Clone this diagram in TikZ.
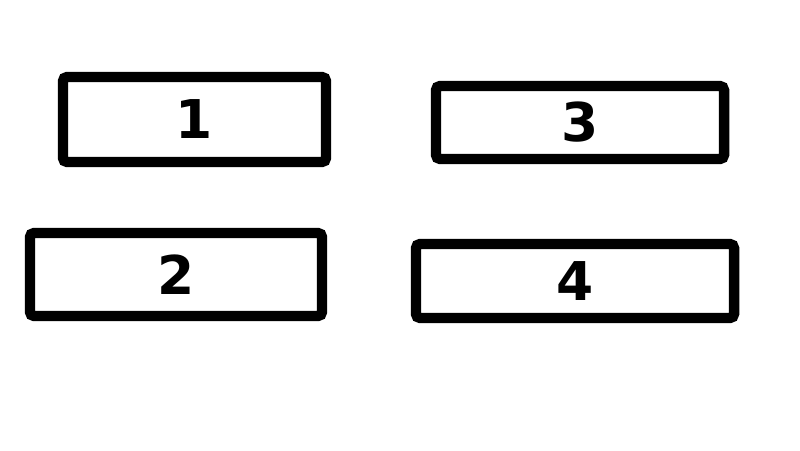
\documentclass[tikz,border=0pt]{standalone}
\usepackage{fontspec}
\newfontfamily\digitfont{DejaVu Sans}
\usepackage{tikz}
\usetikzlibrary{positioning}

\begin{document}
\begin{tikzpicture}[x=0.025cm,y=-0.025cm,semithick]
	\tikzset{box/.style={draw=black, line width=7.4pt, rounded corners=3pt, rectangle, inner sep=0pt,
		font=\digitfont\bfseries\fontsize{38}{38}\selectfont}}
	\useasboundingbox (0,0) rectangle (800,450);
	\node[box, minimum width=6.575cm, minimum height=2.125cm] (1) at (194.5,119.5) {1};
	\node[box, minimum width=7.2cm, minimum height=1.825cm] (3) at (580,122.5) {3};
	\node[box, minimum width=7.3cm, minimum height=2.075cm] (2) at (176,274.5) {2};
	\node[box, minimum width=7.95cm, minimum height=1.85cm] (4) at (575,281) {4};
\end{tikzpicture}
\end{document}
